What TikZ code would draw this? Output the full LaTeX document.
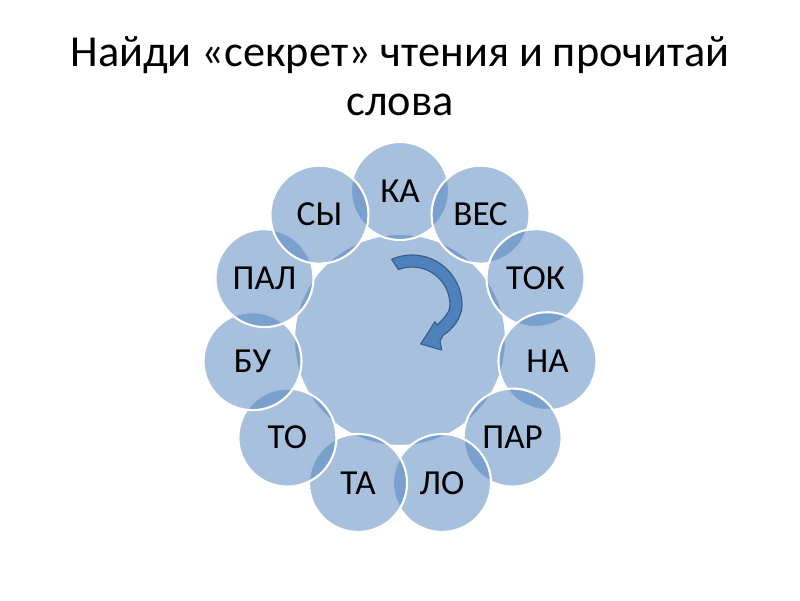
\documentclass[tikz,border=0pt]{standalone}
\usepackage{fontspec}
\setmainfont{Carlito}
\definecolor{petalblue}{RGB}{79,129,189}
\definecolor{arrowline}{RGB}{56,93,138}
\begin{document}
\begin{tikzpicture}[
  petal/.style={circle, minimum size=2.45cm, inner sep=0pt, fill=petalblue, fill opacity=0.5, draw=white, line width=1.5pt},
  syllable/.style={font=\fontsize{25}{28}\selectfont, text=black},
  turnarrow/.style={fill=petalblue, draw=arrowline, line width=0.8pt, line join=round}
]
\useasboundingbox (-10,-6.5) rectangle (10,8.5);
% title
\node[align=center, font=\fontsize{31.5}{35}\selectfont] (title) at (0,6.6) {Найди «секрет» чтения и прочитай\\слова};
% middle circle
\node[petal, minimum size=5.3cm] (hub) at (0,0) {};
% ring of syllables, clockwise from the top
\foreach \word [count=\i] in {КА,ВЕС,ТОК,НА,ПАР,ЛО,ТА,ТО,БУ,ПАЛ,СЫ}
  \node[petal] (p\i) at ({90-(\i-1)*360/11}:3.725) {};
\foreach \word [count=\i] in {КА,ВЕС,ТОК,НА,ПАР,ЛО,ТА,ТО,БУ,ПАЛ,СЫ}
  \node[syllable] (w\i) at (p\i) {\word};
% curved arrow
\coordinate (turn) at (0.3,0.875);
\draw[turnarrow] (turn) ++(114:1.25) arc[start angle=114, end angle=0, radius=1.25]
  .. controls (1.55,0.55) and (1.3,0.25) .. (1.0825,0.125)
  -- (1.0,-0.025) -- (1.0425,-0.25) -- (0.5175,-0.1) -- (0.875,0.4575) -- (0.9325,0.375)
  .. controls (1.125,0.575) and (1.25,0.7) .. (1.25,0.875)
  arc[start angle=0, end angle=111, radius=0.95] -- cycle;
\end{tikzpicture}
\end{document}
